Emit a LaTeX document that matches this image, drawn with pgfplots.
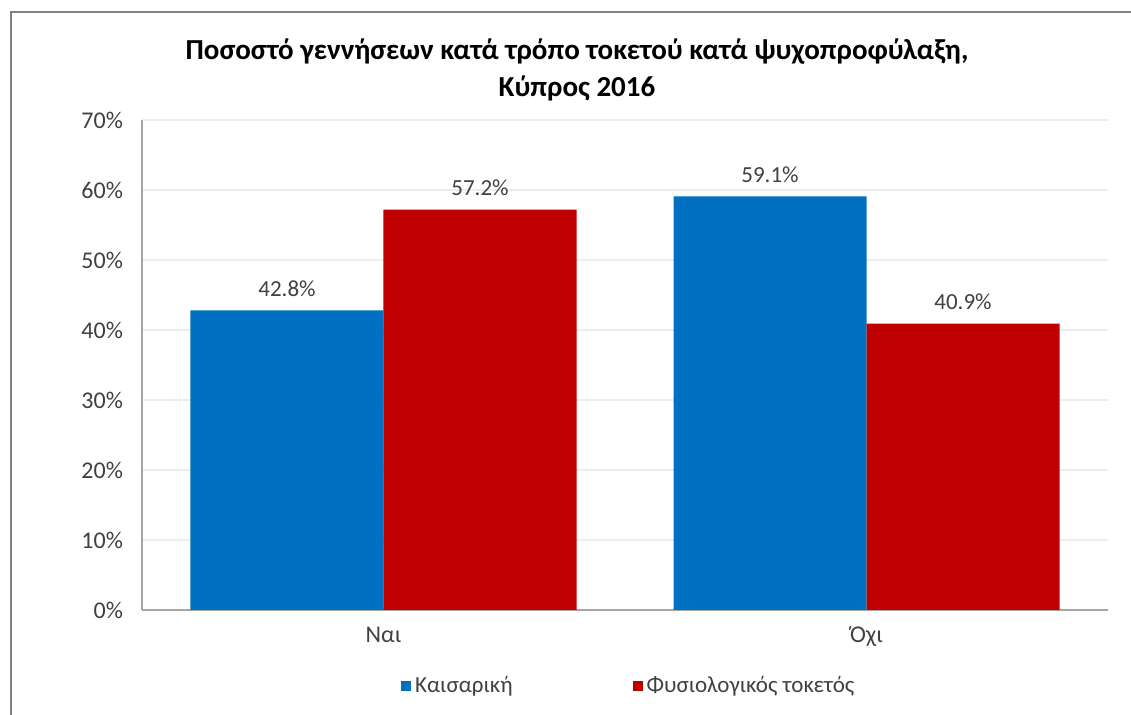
\documentclass[border=0pt]{standalone}
\usepackage{pgfplots}
\pgfplotsset{compat=1.18}
\usepackage{fontspec}
\setmainfont{Carlito}
\definecolor{kblue}{HTML}{0070C0}
\definecolor{kred}{HTML}{C00000}
\definecolor{axgray}{HTML}{A6A6A6}
\definecolor{gridgray}{HTML}{EDEDED}
\definecolor{txt}{HTML}{404040}
\begin{document}
\begin{tikzpicture}
\useasboundingbox (-71pt,-52.5pt) rectangle (494.5pt,305pt);
\draw[draw=gray, line width=0.75pt] (-65.5pt,-60pt) -- (-65.5pt,299pt) -- (500pt,299pt);
\begin{axis}[
  at={(0,0)}, anchor=south west,
  scale only axis, width=483pt, height=245pt,
  ybar=0pt, bar width=96.5pt,
  xmin=-0.5, xmax=1.5, ymin=0, ymax=70,
  xtick={0,1}, xticklabels={Ναι,Όχι},
  ytick={0,10,...,70},
  yticklabels={0\%,10\%,20\%,30\%,40\%,50\%,60\%,70\%},
  axis x line=bottom, axis y line=left,
  axis line style={draw=axgray, line width=0.6pt, -},
  major tick length=0pt,
  ymajorgrids, grid style={draw=gridgray, line width=0.6pt},
  tick label style={text=txt, font=\fontsize{12}{14}\selectfont},
  yticklabel style={xshift=-6pt},
  xticklabel style={yshift=-5pt},
  nodes near coords={\pgfmathprintnumber[fixed,precision=1,fixed zerofill,assume math mode=true]{\pgfplotspointmeta}\%},
  every node near coord/.append style={text=txt, font=\fontsize{11.5}{13}\selectfont, yshift=3.5pt},
  legend style={at={(0.505,-0.155)}, anchor=center, draw=none, legend columns=2,
    font=\fontsize{11.5}{13}\selectfont, text=txt,
    /tikz/every even column/.append style={column sep=58pt}},
  legend image code/.code={\fill[#1] (0pt,-2.5pt) rectangle (5pt,2.5pt);},
]
\addplot[fill=kblue, draw=none] coordinates {(0,42.8) (1,59.1)};
\addplot[fill=kred, draw=none] coordinates {(0,57.2) (1,40.9)};
\legend{Καισαρική, Φυσιολογικός τοκετός}
\end{axis}
\node[align=center, font=\bfseries\fontsize{14.5}{18.5}\selectfont] at (217.5pt,270pt)
  {Ποσοστό γεννήσεων κατά τρόπο τοκετού κατά ψυχοπροφύλαξη,\\Κύπρος 2016};
\end{tikzpicture}
\end{document}
